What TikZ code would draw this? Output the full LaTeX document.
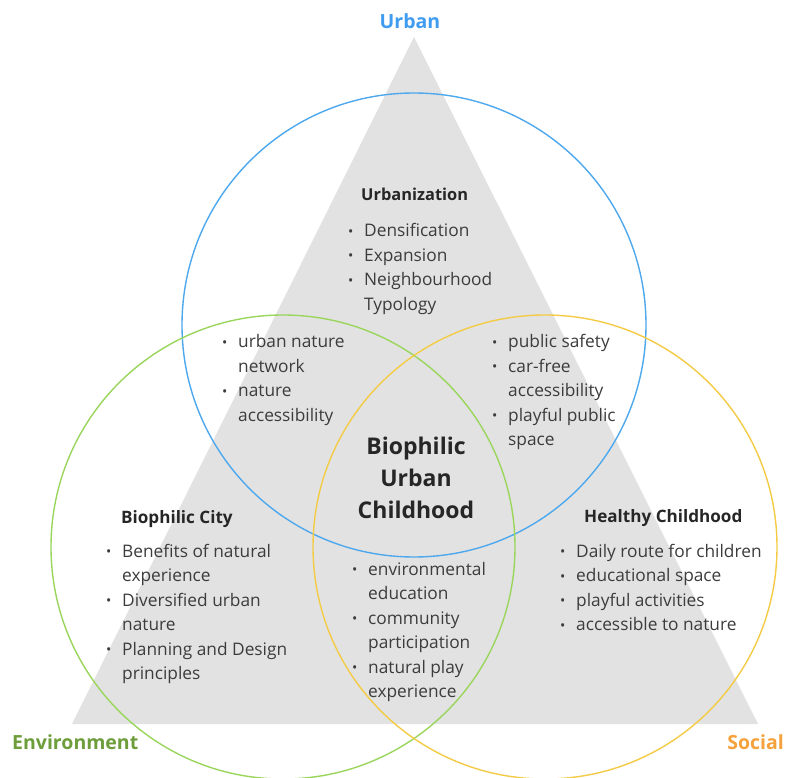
\documentclass[tikz,border=0pt]{standalone}
\usepackage{fontspec}
\setmainfont{Open Sans}
\definecolor{trigray}{HTML}{E2E2E2}
\definecolor{cblue}{HTML}{4DA8EE}
\definecolor{cgreen}{HTML}{9BD65C}
\definecolor{cyellow}{HTML}{F4CB45}
\definecolor{lblue}{HTML}{3F9CF0}
\definecolor{lgreen}{HTML}{6E9E3C}
\definecolor{lorange}{HTML}{F5A23C}
\definecolor{bodytxt}{HTML}{3C3C3C}
\newcommand\bl{\makebox[16pt][l]{\raisebox{0.5pt}{\fontsize{14}{14}\selectfont •}}}
\newcommand\nb{\hspace*{16pt}}
\newcommand\blist[1]{\begin{tabular}[t]{@{}l@{}}#1\end{tabular}}
\newcommand\clist[1]{\begin{tabular}[t]{@{}c@{}}#1\end{tabular}}
\tikzset{
  ring/.style={line width=1.4pt},
  body/.style={inner sep=0pt, anchor=base west, text=bodytxt, font=\fontsize{17.3}{24.5}\selectfont},
  head/.style={inner sep=0pt, anchor=base west, text=black!85, font=\bfseries\fontsize{17.1}{20}\selectfont},
  corner/.style={inner sep=0pt, font=\bfseries\fontsize{19.5}{24}\selectfont},
}
\begin{document}
\begin{tikzpicture}[x=1pt,y=-1pt]
\useasboundingbox (0,0) rectangle (785,778);
\fill[white] (0,0) rectangle (785,778);
% triangle
\coordinate (apex) at (414,37);
\coordinate (bl) at (72,724);
\coordinate (br) at (758,724);
\fill[trigray] (apex) -- (bl) -- (br) -- cycle;
% circles
\coordinate (cu) at (414,325);
\coordinate (ce) at (283,547);
\coordinate (cs) at (545,547);
\draw[ring, cblue] (cu) circle (232pt);
\draw[ring, cgreen] (ce) circle (232pt);
\draw[ring, cyellow] (cs) circle (232pt);
% corner labels
\node[corner, text=lblue, anchor=base] (lu) at (410,29) {Urban};
\node[corner, text=lgreen, anchor=base west] (le) at (12,749) {Environment};
\node[corner, text=lorange, anchor=base east] (ls) at (784,749) {Social};
% urbanization
\node[head, font=\bfseries\fontsize{16.4}{20}\selectfont] (hu) at (361,201) {Urbanization};
\node[body] (tu) at (348,237) {\blist{\bl Densification\\ \bl Expansion\\ \bl Neighbourhood\\ \nb Typology}};
% left intersection
\node[body] (tul) at (222,348) {\blist{\bl urban nature\\ \nb network\\ \bl nature\\ \nb accessibility}};
% right intersection
\node[body] (tur) at (492,348) {\blist{\bl public safety\\ \bl car-free\\ \nb accessibility\\ \bl playful public\\ \nb space}};
% centre
\node[inner sep=0pt, anchor=base, text=black!85, font=\bfseries\fontsize{23}{32}\selectfont] (cc) at (416,454) {\clist{Biophilic\\ Urban\\ Childhood}};
% biophilic city
\node[head] (hb) at (121,523) {Biophilic City};
\node[body] (tb) at (106,557) {\blist{\bl Benefits of natural\\ \nb experience\\ \bl Diversified urban\\ \nb nature\\ \bl Planning and Design\\ \nb principles}};
% healthy childhood
\node[head] (hh) at (584,522) {Healthy Childhood};
\node[body] (th) at (560,557) {\blist{\bl Daily route for children\\ \bl educational space\\ \bl playful activities\\ \bl accessible to nature}};
% bottom intersection
\node[body] (tm) at (352,575) {\blist{\bl environmental\\ \nb education\\ \bl community\\ \nb participation\\ \bl natural play\\ \nb experience}};
\end{tikzpicture}
\end{document}
